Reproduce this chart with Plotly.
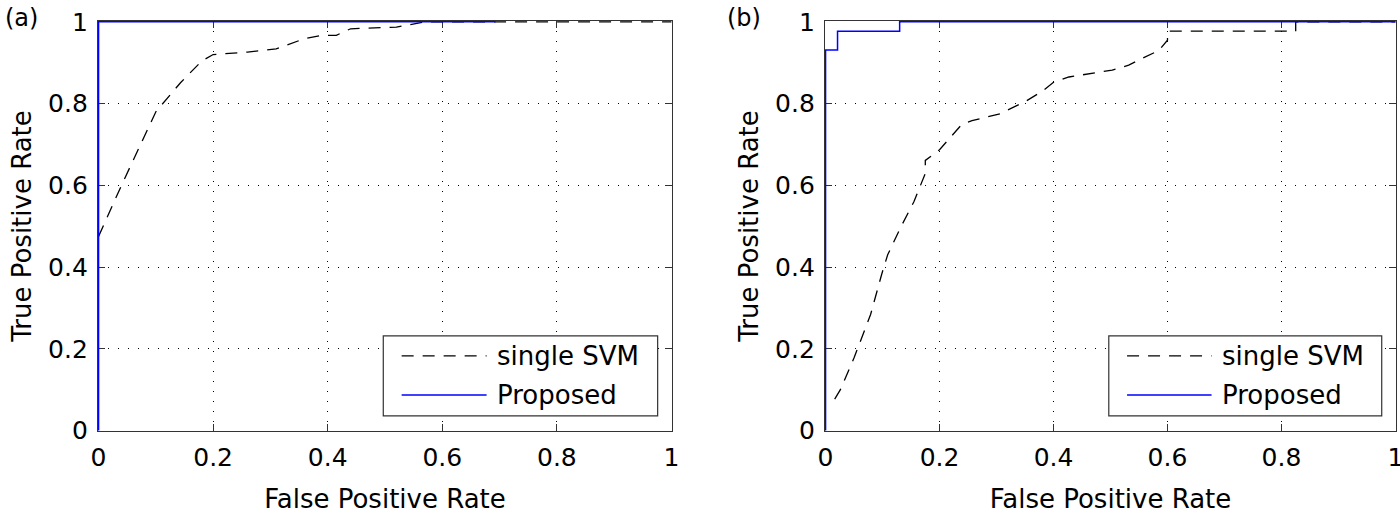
import plotly.graph_objects as go
from plotly.subplots import make_subplots

# (a) ROC curves
fpr_a_svm = [0, 0.04, 0.1, 0.143, 0.18, 0.2, 0.26, 0.31, 0.36, 0.39, 0.415, 0.44, 0.52, 0.57, 1.0]
tpr_a_svm = [0.475, 0.6, 0.78, 0.851, 0.904, 0.92, 0.926, 0.934, 0.959, 0.967, 0.967, 0.983, 0.987, 1.0, 1.0]
fpr_a_prop = [0, 0, 0.693]
tpr_a_prop = [0, 1.0, 1.0]

# (b) ROC curves
fpr_b_svm = [0.016, 0.026, 0.05, 0.079, 0.099, 0.109, 0.131, 0.155, 0.175, 0.175, 0.2, 0.239,
             0.257, 0.306, 0.353, 0.381, 0.4, 0.427, 0.503, 0.532, 0.552, 0.585, 0.6, 0.6,
             0.825, 0.825, 1.0]
tpr_b_svm = [0.077, 0.10, 0.178, 0.284, 0.385, 0.43, 0.495, 0.56, 0.629, 0.661, 0.687, 0.749,
             0.758, 0.775, 0.807, 0.831, 0.852, 0.865, 0.882, 0.894, 0.908, 0.93, 0.955, 0.977,
             0.977, 1.0, 1.0]
fpr_b_prop = [0, 0, 0.021, 0.021, 0.13, 0.13, 1.0]
tpr_b_prop = [0, 0.931, 0.931, 0.977, 0.977, 1.0, 1.0]

panel_labels = ["(a)", "(b)"]
legend_names = ["single SVM", "Proposed"]

FONT = "DejaVu Sans, Arial, sans-serif"
DASH = "12px,9px"
BLUE = "#0000ff"

fig = make_subplots(rows=1, cols=2)

data = [(fpr_a_svm, tpr_a_svm, fpr_a_prop, tpr_a_prop),
        (fpr_b_svm, tpr_b_svm, fpr_b_prop, tpr_b_prop)]
for i, (xs, ys, xp, yp) in enumerate(data):
    fig.add_trace(go.Scatter(x=xs, y=ys, mode="lines", name=legend_names[0],
                             line=dict(color="black", width=1.3, dash=DASH),
                             showlegend=False), row=1, col=i + 1)
    fig.add_trace(go.Scatter(x=xp, y=yp, mode="lines", name=legend_names[1],
                             line=dict(color=BLUE, width=1.5),
                             showlegend=False), row=1, col=i + 1)

axis_style = dict(tickvals=[0, 0.2, 0.4, 0.6, 0.8, 1],
                  ticktext=["0", "0.2", "0.4", "0.6", "0.8", "1"],
                  showgrid=True, gridcolor="black",
                  griddash="1px,9px", gridwidth=1, zeroline=False,
                  showline=True, linecolor="#333", linewidth=1.3, mirror="ticks",
                  ticks="inside", ticklen=7, tickcolor="#333", tickwidth=1.2,
                  tickfont=dict(family=FONT, size=25, color="black"),
                  layer="below traces", automargin=False, ticklabeloverflow="allow")

# a hair of padding so the blue lines on the frame are not clipped
fig.update_xaxes(**axis_style, range=[-0.001, 1.001], ticklabelstandoff=4)
fig.update_yaxes(**axis_style, range=[-0.001, 1.002], ticklabelstandoff=4)
fig.update_xaxes(title=dict(text="False Positive Rate", font=dict(family=FONT, size=26, color="black"),
                            standoff=22))
fig.update_yaxes(title=dict(text="True Positive Rate", font=dict(family=FONT, size=26, color="black"),
                            standoff=8))

fig.update_layout(
    xaxis=dict(domain=[98 / 1400, 672 / 1400]),
    xaxis2=dict(domain=[825 / 1400, 1396 / 1400]),
    yaxis=dict(domain=[1 - 431 / 514, 1 - 21 / 514]),
    yaxis2=dict(domain=[1 - 431 / 514, 1 - 21 / 514]),
    width=1400, height=514,
    margin=dict(l=0, r=0, t=0, b=0),
    plot_bgcolor="white", paper_bgcolor="white",
    font=dict(family=FONT, color="black"),
)

# panel labels
for lbl, x in zip(panel_labels, [0.002, 725 / 1400]):
    fig.add_annotation(text=lbl, x=x, y=1 - 18 / 514, xref="paper", yref="paper",
                       xanchor="left", yanchor="middle", showarrow=False,
                       font=dict(family=FONT, size=24, color="black"))

# legends drawn inside each axes
for xa, ya in [("x", "y"), ("x2", "y2")]:
    xr, yr = xa + " domain", ya + " domain"
    fig.add_shape(type="rect", xref=xr, yref=yr, x0=0.497, x1=0.975, y0=0.037, y1=0.232,
                  line=dict(color="#333", width=1.2), fillcolor="white", layer="above")
    fig.add_shape(type="line", xref=xr, yref=yr, x0=0.529, x1=0.677, y0=0.183, y1=0.183,
                  line=dict(color="black", width=1.3, dash=DASH), layer="above")
    fig.add_shape(type="line", xref=xr, yref=yr, x0=0.529, x1=0.677, y0=0.088, y1=0.088,
                  line=dict(color=BLUE, width=1.5), layer="above")
    for name, yy in zip(legend_names, [0.183, 0.088]):
        fig.add_annotation(text=name, xref=xr, yref=yr, x=0.692, y=yy,
                           xanchor="left", yanchor="middle", showarrow=False,
                           font=dict(family=FONT, size=26, color="black"))

# the page body has a default 8px margin; drop it so the figure sits at 0,0
fig.write_html("out.html", config={"displayModeBar": False},
               post_script="document.body.style.margin='0';")
